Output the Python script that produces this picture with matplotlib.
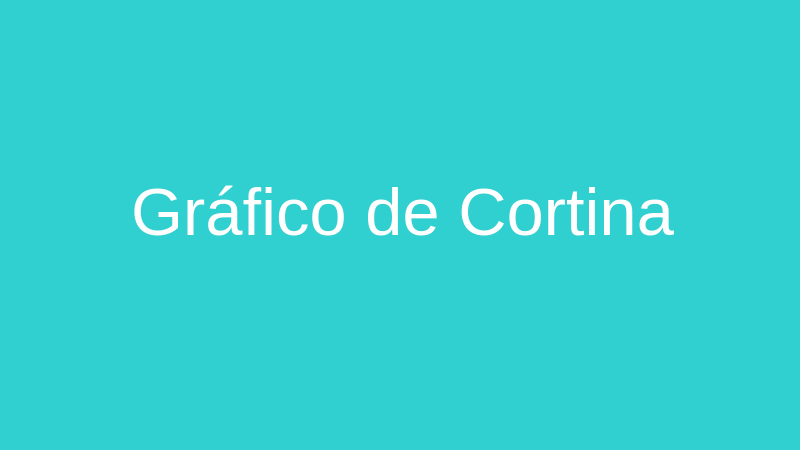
import matplotlib.pyplot as plt

title = "Gráfico de Cortina"
bg_color = "#31d0d0"

fig = plt.figure(figsize=(8, 4.5), dpi=100)
fig.patch.set_facecolor(bg_color)

# centred title only
fig.text(402 / 800, 1 - 218 / 450, title, ha="center", va="center",
         color="white", fontsize=48.2, family=["Liberation Sans", "DejaVu Sans"])

fig.savefig("out.png", dpi=100, facecolor=bg_color)
